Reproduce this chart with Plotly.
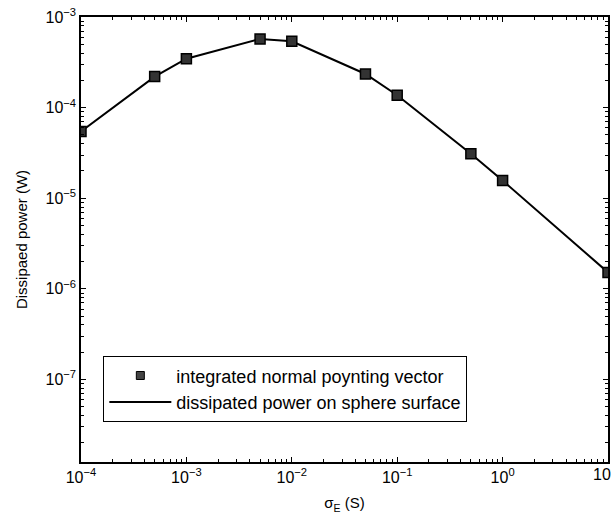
import plotly.graph_objects as go
import numpy as np

sigma = [1e-4, 5e-4, 1e-3, 5e-3, 1e-2, 5e-2, 1e-1, 5e-1, 1.0, 10.0]
power = [5.45e-5, 2.2e-4, 3.47e-4, 5.72e-4, 5.4e-4, 2.35e-4, 1.37e-4, 3.1e-5, 1.57e-5, 1.52e-6]

xtickvals = [1e-4, 1e-3, 1e-2, 1e-1, 1, 10]
xticktext = ["10<sup>−4</sup>", "10<sup>−3</sup>", "10<sup>−2</sup>", "10<sup>−1</sup>", "10<sup>0</sup>", "10"]
ytickvals = [1e-7, 1e-6, 1e-5, 1e-4, 1e-3]
yticktext = ["10<sup>−7</sup>", "10<sup>−6</sup>", "10<sup>−5</sup>", "10<sup>−4</sup>", "10<sup>−3</sup>"]

x_minor = [m * 10.0**e for e in range(-4, 1) for m in range(2, 10)]
y_minor = [m * 10.0**e for e in range(-8, -3) for m in range(2, 10)]

FONT = "Liberation Sans, Arial"
MARK = dict(symbol="square", size=10, color="#333333", line=dict(color="black", width=1.5))

fig = go.Figure()
fig.add_trace(go.Scatter(
    x=[None], y=[None], mode="markers", name="integrated normal poynting vector",
    marker=dict(symbol="square", size=8, color="#444444", line=dict(color="black", width=1)),
))
fig.add_trace(go.Scatter(
    x=sigma, y=power, mode="lines", name="dissipated power on sphere surface",
    line=dict(color="black", width=2),
))
fig.add_trace(go.Scatter(
    x=sigma, y=power, mode="markers", showlegend=False, marker=MARK,
))

axis_common = dict(
    type="log", showgrid=False, zeroline=False, showline=True, linecolor="black", linewidth=1.5,
    mirror="allticks", ticks="inside", ticklen=5, tickcolor="black", tickwidth=1,
    tickfont=dict(family=FONT, size=16, color="black"),
    ticklabeloverflow="allow", automargin=False,
)

# last x tick label drawn as an annotation, right-aligned so it stays inside the page
fig.update_xaxes(
    **axis_common,
    range=[-4, 1],
    tickvals=xtickvals, ticktext=xticktext[:-1] + [""],
    minor=dict(tickvals=x_minor, ticks="inside", ticklen=3, tickcolor="black", tickwidth=1, showgrid=False),
    title=dict(text="σ<sub>E</sub> (S)", font=dict(family=FONT, size=15, color="black"), standoff=13),
)
fig.add_annotation(
    x=np.log10(xtickvals[-1]), xref="x", y=0, yref="paper",
    text=xticktext[-1], showarrow=False, xanchor="right", yanchor="top",
    xshift=5, yshift=-2,
    font=dict(family=FONT, size=16, color="black"),
)
fig.update_yaxes(
    **axis_common,
    range=[-7.91, -3],
    tickvals=ytickvals, ticktext=yticktext,
    minor=dict(tickvals=y_minor, ticks="inside", ticklen=3, tickcolor="black", tickwidth=1, showgrid=False),
    title=dict(text="Dissipaed power (W)", font=dict(family=FONT, size=15, color="black"), standoff=14),
)

fig.update_layout(
    width=614, height=525,
    margin=dict(l=81, r=6, t=17, b=63),
    paper_bgcolor="white", plot_bgcolor="white",
    showlegend=True,
    legend=dict(
        x=0.042, y=0.238, xanchor="left", yanchor="top",
        bgcolor="white", bordercolor="black", borderwidth=1.2,
        font=dict(family=FONT, size=18, color="black"),
        tracegroupgap=0, itemwidth=62,
    ),
)

fig.write_html("out.html")
